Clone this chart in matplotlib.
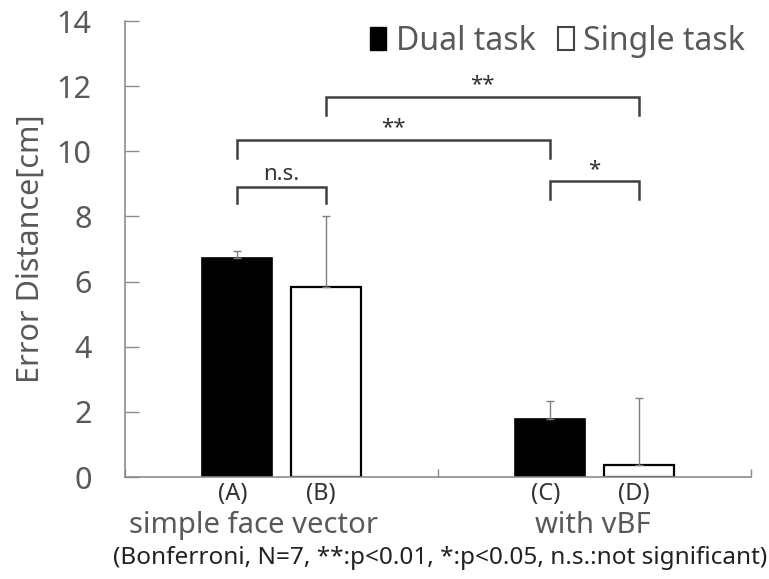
import numpy as np
import matplotlib
matplotlib.use('Agg')
import matplotlib.pyplot as plt
from matplotlib.patches import Patch

plt.rcParams['font.family'] = ['Noto Sans', 'DejaVu Sans']

# data
groups = ['simple face vector', 'with vBF']
conditions = ['Dual task', 'Single task']
bar_labels = [['(A)', '(B)'], ['(C)', '(D)']]
dual_mean = [6.72, 1.78]
dual_err = [0.23, 0.57]
single_mean = [5.85, 0.38]
single_err = [2.15, 2.05]
# significance pairs: (group, condition) -> (group, condition), label
sig_pairs = [((0, 0), (0, 1), 'n.s.'),
             ((0, 0), (1, 0), '**'),
             ((0, 1), (1, 1), '**'),
             ((1, 0), (1, 1), '*')]
footnote = '(Bonferroni, N=7, **:p<0.01, *:p<0.05, n.s.:not significant)'

GRAY = '#595959'
AXC = '#8c8c8c'
offset = 0.142
width = 0.224

fig = plt.figure(figsize=(7.69, 5.79), dpi=100)
ax = fig.add_axes([0.1625, 0.176, 0.8141, 0.7877])

x = np.arange(len(groups))
ekw = dict(ecolor='#7f7f7f', elinewidth=1.0, capsize=3, capthick=1.0)
ax.bar(x - offset, dual_mean, width, color='black', edgecolor='black', lw=1.2,
       yerr=[np.zeros(len(x)), dual_err], error_kw=ekw)
ax.bar(x + offset, single_mean, width, color='white', edgecolor='black', lw=1.6,
       yerr=[np.zeros(len(x)), single_err], error_kw=ekw)

ax.set_xlim(-0.5, 1.5)
ax.set_ylim(0, 14)
ax.set_yticks(np.arange(0, 15, 2))
ax.set_xticks([-0.5, 0.5, 1.5])
ax.set_xticklabels([])
ax.tick_params(axis='y', direction='in', length=10, width=1.0, color=AXC,
               labelsize=22, labelcolor=GRAY, pad=24)
ax.tick_params(axis='x', direction='in', length=6, width=1.0, color=AXC)
for s in ['top', 'right']:
    ax.spines[s].set_visible(False)
for s in ['left', 'bottom']:
    ax.spines[s].set_color(AXC)
    ax.spines[s].set_linewidth(1.2)

ax.set_ylabel('Error Distance[cm]', fontsize=22, color=GRAY)
ax.yaxis.set_label_coords(-0.126, 0.5)

# category labels under the bars
trans = ax.get_xaxis_transform()
for g in range(len(groups)):
    for c, sgn in enumerate([-1, 1]):
        ax.text(x[g] + sgn * offset - 0.015, -0.01, bar_labels[g][c], transform=trans,
                ha='center', va='top', fontsize=17, color='#333333')
    ax.text(x[g] - 0.09 if g == 0 else x[g] - 0.005, -0.075, groups[g],
            transform=trans, ha='center', va='top', fontsize=21, color=GRAY)
fig.text(0.572, 0.015, footnote, ha='center', va='bottom', fontsize=17.5,
         color='#222222')

# significance brackets
bracket_y = [8.92, 10.35, 11.67, 9.08]
drop = [0.52, 0.55, 0.57, 0.53]


def pos(gc):
    g, c = gc
    return x[g] + (offset if c else -offset)


for (a, b, lab), yb, d in zip(sig_pairs, bracket_y, drop):
    xa, xb = pos(a), pos(b)
    ax.plot([xa, xa, xb, xb], [yb - d, yb, yb, yb - d], color='#404040',
            lw=1.8, solid_joinstyle='miter', clip_on=False)
    ax.text((xa + xb) / 2, yb + 0.2, lab, ha='center', va='baseline',
            fontsize=16, color='#333333')

handles = [Patch(facecolor='black', edgecolor='black'),
           Patch(facecolor='white', edgecolor='#444444', lw=1.5)]
fig.legend(handles, conditions, loc='upper right', bbox_to_anchor=(0.99, 0.985),
           ncol=2, frameon=False, fontsize=23, labelcolor=GRAY,
           handlelength=0.5, handleheight=0.7, handletextpad=0.3,
           columnspacing=0.7, borderpad=0.0)

fig.savefig('out.png', dpi=100)
